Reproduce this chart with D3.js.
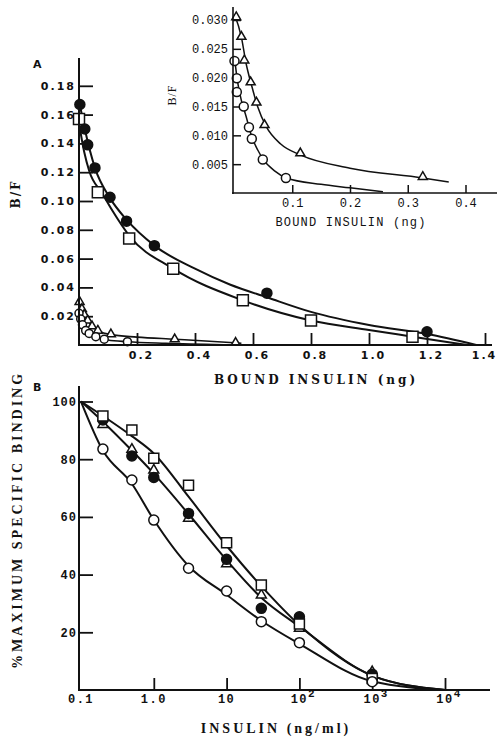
<!DOCTYPE html>
<html>
<head>
<meta charset="utf-8">
<script src="https://cdn.jsdelivr.net/npm/d3@7"></script>
<style>
  body { margin: 0; background: #fff; }
  svg { display: block; }
  text { fill: #111; }
</style>
</head>
<body>
<div id="chart"></div>
<script>
// ---- panel A, main (bound insulin ng vs B/F)
const aFilled = [[0.003, 0.167], [0.02, 0.150], [0.03, 0.139], [0.055, 0.123], [0.107, 0.1026],
    [0.164, 0.086], [0.26, 0.069], [0.648, 0.036], [1.20, 0.0092]];
const aFilledFit = [[0, 0.170], [0.02, 0.150], [0.055, 0.123], [0.107, 0.102], [0.164, 0.087],
    [0.26, 0.069], [0.4, 0.053], [0.52, 0.042], [0.65, 0.033], [0.8, 0.023], [1.0, 0.0139],
    [1.2, 0.0076], [1.37, 0]];
const aSquare = [[0.0, 0.157], [0.065, 0.106], [0.173, 0.074], [0.325, 0.053], [0.565, 0.031],
    [0.80, 0.017], [1.15, 0.0058]];
const aSquareFit = [[0, 0.154], [0.018, 0.134], [0.035, 0.121], [0.081, 0.105], [0.116, 0.093],
    [0.173, 0.076], [0.325, 0.053], [0.565, 0.031], [0.8, 0.017], [1.0, 0.0104], [1.15, 0.0058],
    [1.34, 0]];
const aTriangle = [[0.002, 0.030], [0.01, 0.025], [0.018, 0.021], [0.03, 0.017], [0.045, 0.013],
    [0.065, 0.010], [0.11, 0.0075], [0.33, 0.0040], [0.54, 0.0016]];
const aTriangleFit = [[0, 0.031], [0.02, 0.021], [0.045, 0.013], [0.07, 0.0095], [0.11, 0.0072],
    [0.2, 0.0055], [0.33, 0.0040], [0.45, 0.0026], [0.56, 0.0012]];
const aCircle = [[0.0, 0.022], [0.006, 0.018], [0.012, 0.014], [0.023, 0.010], [0.035, 0.008],
    [0.058, 0.0058], [0.087, 0.004], [0.167, 0.0023]];
const aCircleFit = [[0, 0.023], [0.012, 0.014], [0.03, 0.009], [0.06, 0.0055], [0.1, 0.0035],
    [0.167, 0.0023], [0.3, 0.0012], [0.5, 0.0002]];
const aXTicks = [0.2, 0.4, 0.6, 0.8, 1.0, 1.2, 1.4];
const aYTicks = [0.02, 0.04, 0.06, 0.08, 0.10, 0.12, 0.14, 0.16, 0.18];

// ---- panel A, inset
const inTriangle = [[0.003, 0.0305], [0.012, 0.0271], [0.017, 0.023], [0.028, 0.0192],
    [0.038, 0.0157], [0.052, 0.0118], [0.114, 0.0069], [0.326, 0.0028]];
const inTriangleFit = [[0, 0.031], [0.012, 0.027], [0.02, 0.0225], [0.03, 0.0185], [0.04, 0.015],
    [0.055, 0.0115], [0.08, 0.0085], [0.114, 0.0066], [0.2, 0.0043], [0.326, 0.0026], [0.371, 0.0019]];
const inCircle = [[0.0, 0.0229], [0.004, 0.0199], [0.004, 0.0175], [0.016, 0.0150], [0.025, 0.0114],
    [0.030, 0.0094], [0.049, 0.0058], [0.089, 0.0026]];
const inCircleFit = [[0, 0.0235], [0.005, 0.0195], [0.012, 0.016], [0.02, 0.0133], [0.03, 0.0097],
    [0.04, 0.0075], [0.05, 0.0058], [0.07, 0.0038], [0.09, 0.0026], [0.15, 0.0015], [0.2, 0.0009],
    [0.257, 0.0002]];
const inXTicks = [0.1, 0.2, 0.3, 0.4];
const inYTicks = [0.005, 0.010, 0.015, 0.020, 0.025, 0.030];

// ---- panel B (insulin ng/ml vs % maximum specific binding)
const bDoses = [0.2, 0.5, 1, 3, 10, 30, 100, 1000];
const bSquare = [95, 90.1, 80.3, 71, 51, 36.4, 22.9, 4];
const bFilled = [93.6, 81.1, 73.7, 61.2, 45.3, 28.3, 25.4, 5.5];
const bTriangle = [92, 83.4, 76.2, 59.5, 43.7, 32.9, 21.4, 6.3];
const bCircle = [83.5, 72.8, 58.9, 42.2, 34.3, 23.7, 16.4, 2.9];
const bFitDoses = [0.1, 0.2, 0.5, 1, 3, 10, 30, 100, 1000, 10000];
const bSquareFit = [100, 95, 88, 82, 67, 50, 36, 22.5, 5, 0];
const bFilledFit = [100, 93, 83, 75, 61, 45, 32, 22, 5, 0];
const bCircleFit = [100, 83, 71.5, 59, 43, 33, 24, 16, 3, 0];
const bXTicks = [1, 10, 100, 1000, 10000];
const bYTicks = [20, 40, 60, 80, 100];

const width = 497, height = 738;
const svg = d3.select("#chart").append("svg").attr("width", width).attr("height", height);

function curve(g, pts, x, y, w) {
    g.append("path")
        .attr("d", d3.line().x(d => x(d[0])).y(d => y(d[1])).curve(d3.curveMonotoneX)(pts))
        .attr("fill", "none").attr("stroke", "#111").attr("stroke-width", w);
}

function markers(g, pts, x, y, kind, size) {
    const sel = g.append("g").selectAll("path").data(pts).enter().append("path")
        .attr("stroke", "#111").attr("stroke-width", 1.5)
        .attr("fill", kind === "filled" ? "#111" : "#fff")
        .attr("transform", d => `translate(${x(d[0])},${y(d[1])})`);
    if (kind === "square") {
        sel.attr("d", d3.symbol(d3.symbolSquare, size * size)());
    } else if (kind === "triangle") {
        sel.attr("d", d3.symbol(d3.symbolTriangle, size * size * 0.43)());
    } else {
        sel.attr("d", d3.symbol(d3.symbolCircle, Math.PI * size * size / 4)());
    }
}

function axisLine(x1, y1, x2, y2) {
    svg.append("line").attr("x1", x1).attr("y1", y1).attr("x2", x2).attr("y2", y2)
        .attr("stroke", "#111").attr("stroke-width", 2);
}

// ================= Panel A =================
const xA = d3.scaleLinear().domain([0, 1.4]).range([79, 485]);
const yA = d3.scaleLinear().domain([0, 0.18]).range([345, 85.8]);
const gA = svg.append("g");

gA.append("g").attr("transform", "translate(79,0)")
    .call(d3.axisLeft(yA).tickValues(aYTicks).tickFormat(d3.format(".2f")).tickSize(-14).tickPadding(3))
    .call(g => g.select(".domain").remove())
    .call(g => g.selectAll("line").attr("stroke", "#111").attr("stroke-width", 1.8))
    .call(g => g.selectAll("text").attr("font-family", "DejaVu Sans").attr("font-weight", "bold")
        .attr("font-size", 11).attr("letter-spacing", 2).attr("fill", "#111"));
gA.append("g").attr("transform", "translate(0,345)")
    .call(d3.axisBottom(xA).tickValues(aXTicks).tickFormat(d3.format(".1f")).tickSize(-12).tickPadding(6))
    .call(g => g.select(".domain").remove())
    .call(g => g.selectAll("line").attr("stroke", "#111").attr("stroke-width", 1.8))
    .call(g => g.selectAll("text").attr("font-family", "DejaVu Sans").attr("font-weight", "bold")
        .attr("font-size", 11).attr("letter-spacing", 2).attr("fill", "#111")
        .attr("dx", d => d === 1.4 ? -1 : 4));
axisLine(79, 58, 79, 346);
axisLine(78, 345, 492, 345);

curve(gA, aFilledFit, xA, yA, 2);
curve(gA, aSquareFit, xA, yA, 2);
curve(gA, aTriangleFit, xA, yA, 1.6);
curve(gA, aCircleFit, xA, yA, 1.6);
markers(gA, aTriangle, xA, yA, "triangle", 9);
markers(gA, aCircle, xA, yA, "circle", 8);
markers(gA, aSquare, xA, yA, "square", 11);
markers(gA, aFilled, xA, yA, "filled", 10);

svg.append("text").attr("x", 33).attr("y", 68).attr("font-family", "DejaVu Sans")
    .attr("font-weight", "bold").attr("font-size", 11).text("A");
svg.append("text").attr("transform", "translate(20,194) rotate(-90)").attr("text-anchor", "middle")
    .attr("font-family", "DejaVu Serif").attr("font-weight", "bold").attr("font-size", 12)
    .attr("letter-spacing", 2).text("B/F");
svg.append("text").attr("x", 316).attr("y", 384).attr("text-anchor", "middle")
    .attr("font-family", "DejaVu Serif").attr("font-weight", "bold").attr("font-size", 12)
    .attr("letter-spacing", 3).text("BOUND INSULIN (ng)");

// ================= Inset =================
const xI = d3.scaleLinear().domain([0, 0.4]).range([234.5, 465.5]);
const yI = d3.scaleLinear().domain([0, 0.030]).range([193, 20]);
const gI = svg.append("g");

gI.append("g").attr("transform", "translate(233,0)")
    .call(d3.axisLeft(yI).tickValues(inYTicks).tickFormat(d3.format(".3f")).tickSize(-8).tickPadding(5))
    .call(g => g.select(".domain").remove())
    .call(g => g.selectAll("line").attr("stroke", "#111").attr("stroke-width", 1.5))
    .call(g => g.selectAll("text").attr("font-family", "Liberation Mono").attr("font-size", 12)
        .attr("fill", "#111"));
gI.append("g").attr("transform", "translate(0,193)")
    .call(d3.axisBottom(xI).tickValues(inXTicks).tickFormat(d3.format(".1f")).tickSize(-8).tickPadding(5))
    .call(g => g.select(".domain").remove())
    .call(g => g.selectAll("line").attr("stroke", "#111").attr("stroke-width", 1.5))
    .call(g => g.selectAll("text").attr("font-family", "Liberation Mono").attr("font-size", 12)
        .attr("fill", "#111"));
svg.append("line").attr("x1", 233).attr("y1", 7).attr("x2", 233).attr("y2", 194)
    .attr("stroke", "#111").attr("stroke-width", 1.6);
svg.append("line").attr("x1", 232).attr("y1", 193).attr("x2", 497).attr("y2", 193)
    .attr("stroke", "#111").attr("stroke-width", 1.6);

curve(gI, inTriangleFit, xI, yI, 1.5);
curve(gI, inCircleFit, xI, yI, 1.5);
markers(gI, inTriangle, xI, yI, "triangle", 9);
markers(gI, inCircle, xI, yI, "circle", 9);

svg.append("text").attr("transform", "translate(176,95) rotate(-90)").attr("text-anchor", "middle")
    .attr("font-family", "Liberation Serif").attr("font-size", 12).attr("letter-spacing", 1).text("B/F");
svg.append("text").attr("x", 351).attr("y", 226).attr("text-anchor", "middle")
    .attr("font-family", "Liberation Mono").attr("font-size", 12).attr("letter-spacing", 1.2)
    .text("BOUND INSULIN (ng)");

// ================= Panel B =================
const xB = d3.scaleLog().domain([0.1, 10000]).range([81, 445]);
const yB = d3.scaleLinear().domain([0, 100]).range([690, 401.5]);
const gB = svg.append("g");

const supLabel = { 1: "1.0", 10: "10" };
gB.append("g").attr("transform", "translate(79,0)")
    .call(d3.axisLeft(yB).tickValues(bYTicks).tickFormat(d3.format("d")).tickSize(-14).tickPadding(2))
    .call(g => g.select(".domain").remove())
    .call(g => g.selectAll("line").attr("stroke", "#111").attr("stroke-width", 1.8))
    .call(g => g.selectAll("text").attr("font-family", "Liberation Mono").attr("font-weight", "bold")
        .attr("font-size", 12).attr("letter-spacing", 1).attr("fill", "#111"));
gB.append("g").attr("transform", "translate(0,690)")
    .call(d3.axisBottom(xB).tickValues(bXTicks).tickSize(-12).tickPadding(6).tickFormat(""))
    .call(g => g.select(".domain").remove())
    .call(g => g.selectAll("line").attr("stroke", "#111").attr("stroke-width", 1.8));

// x tick labels with superscripts
const xLabs = [0.1].concat(bXTicks);
xLabs.forEach(v => {
    const t = svg.append("text").attr("x", xB(v)).attr("y", 703).attr("text-anchor", "middle")
        .attr("font-family", "Liberation Mono").attr("font-weight", "bold").attr("font-size", 12)
        .attr("letter-spacing", 1.5);
    if (v === 0.1) t.text("0.1");
    else if (supLabel[v]) t.text(supLabel[v]);
    else {
        t.attr("dx", 4);
        t.append("tspan").text("10");
        t.append("tspan").attr("dy", -6).attr("font-size", 11).text(String(Math.round(Math.log10(v))));
    }
});

axisLine(79, 386, 79, 691);
axisLine(78, 690, 490, 690);

const zip = (xs, ys) => xs.map((d, i) => [d, ys[i]]);
curve(gB, zip(bFitDoses, bSquareFit), xB, yB, 2);
curve(gB, zip(bFitDoses, bFilledFit), xB, yB, 2);
curve(gB, zip(bFitDoses, bCircleFit), xB, yB, 2);
markers(gB, zip(bDoses, bTriangle), xB, yB, "triangle", 10);
markers(gB, zip(bDoses, bFilled), xB, yB, "filled", 10);
markers(gB, zip(bDoses, bSquare), xB, yB, "square", 10);
markers(gB, zip(bDoses, bCircle), xB, yB, "circle", 10);

svg.append("text").attr("x", 33).attr("y", 391).attr("font-family", "DejaVu Sans")
    .attr("font-weight", "bold").attr("font-size", 11).text("B");
svg.append("text").attr("transform", "translate(22,520) rotate(-90)").attr("text-anchor", "middle")
    .attr("font-family", "Liberation Serif").attr("font-weight", "bold").attr("font-size", 14)
    .attr("letter-spacing", 3).text("%MAXIMUM SPECIFIC BINDING");
svg.append("text").attr("x", 276).attr("y", 733).attr("text-anchor", "middle")
    .attr("font-family", "Liberation Serif").attr("font-weight", "bold").attr("font-size", 14)
    .attr("letter-spacing", 3).text("INSULIN (ng/ml)");
</script>
</body>
</html>
